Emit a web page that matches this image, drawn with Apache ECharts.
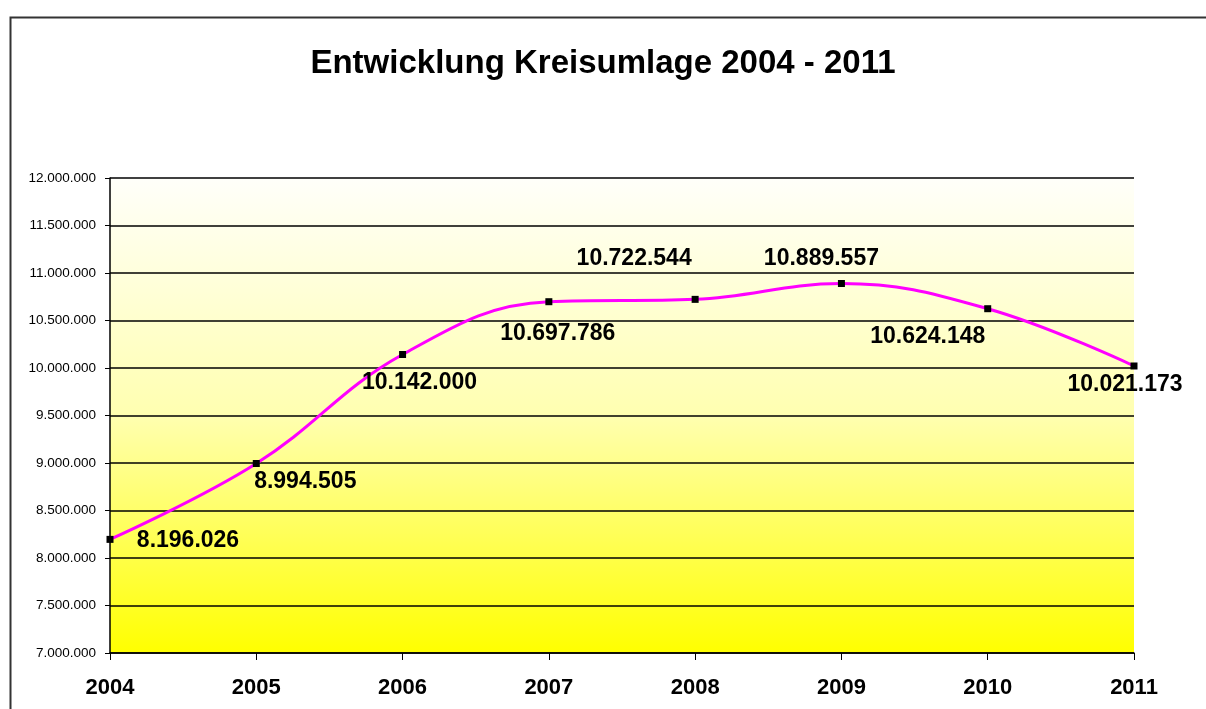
<!DOCTYPE html>
<html>
<head>
<meta charset="utf-8">
<script src="https://cdn.jsdelivr.net/npm/echarts@6/dist/echarts.min.js"></script>
<style>
  html, body { margin: 0; padding: 0; background: #fff; }
  #chart { width: 1206px; height: 709px; }
</style>
</head>
<body>
<div id="chart"></div>
<script>
const years = ["2004", "2005", "2006", "2007", "2008", "2009", "2010", "2011"];
const kreisumlage = [8196026, 8994505, 10142000, 10697786, 10722544, 10889557, 10624148, 10021173];
// where Excel left each data label, relative to its point
const labelOffsets = [[78, 1], [49, 18], [17, 28], [9, 32], [-61, -41], [-20, -25], [-60, 28], [-9, 19]];

const dots = (value) => value.toString().replace(/\B(?=(\d{3})+(?!\d))/g, ".");

const myChart = echarts.init(document.getElementById("chart"));

const option = {
  animation: false,
  backgroundColor: "#fff",
  title: {
    text: "Entwicklung Kreisumlage 2004 - 2011",
    left: "center",
    top: 42,
    textStyle: { fontFamily: "Liberation Sans, Arial", fontSize: 33, fontWeight: "bold", color: "#000" }
  },
  graphic: [{
    type: "rect",
    left: 8,
    top: 15,
    shape: { width: 1230, height: 720 },
    style: { fill: "none", stroke: "#333", lineWidth: 2 },
    z: 100
  }],
  grid: {
    left: 110,
    right: 72,
    top: 178,
    bottom: 56,
    show: true,
    borderWidth: 0,
    backgroundColor: new echarts.graphic.LinearGradient(0, 0, 0, 1, [
      { offset: 0, color: "#FFFFFA" },
      { offset: 0.5, color: "#FFFFB0" },
      { offset: 1, color: "#FFFF00" }
    ])
  },
  xAxis: {
    type: "category",
    data: years,
    boundaryGap: false,
    axisLine: { lineStyle: { color: "#000", width: 1.5 } },
    axisTick: { length: 7, lineStyle: { color: "#000" } },
    axisLabel: { margin: 24, fontFamily: "Liberation Sans, Arial", fontSize: 22, fontWeight: "bold", color: "#000" }
  },
  yAxis: {
    type: "value",
    min: 7000000,
    max: 12000000,
    interval: 500000,
    axisLine: { show: true, lineStyle: { color: "#000", width: 1.5 } },
    axisTick: { show: true, length: 5, lineStyle: { color: "#000" } },
    splitLine: { lineStyle: { color: "#000", width: 1.5 } },
    axisLabel: {
      margin: 14,
      fontFamily: "Liberation Sans, Arial",
      fontSize: 13.5,
      color: "#000",
      formatter: (v) => dots(v)
    }
  },
  series: [{
    type: "line",
    data: kreisumlage.map((v, i) => ({
      value: v,
      label: { offset: labelOffsets[i] }
    })),
    smooth: 0.4,
    symbol: "rect",
    symbolSize: 7,
    itemStyle: { color: "#000" },
    lineStyle: { color: "#FF00FF", width: 3 },
    label: {
      show: true,
      position: "inside",
      fontFamily: "Liberation Sans, Arial",
      fontSize: 23,
      fontWeight: "bold",
      color: "#000",
      formatter: (p) => dots(p.value)
    }
  }]
};

myChart.setOption(option, true);
</script>
</body>
</html>
